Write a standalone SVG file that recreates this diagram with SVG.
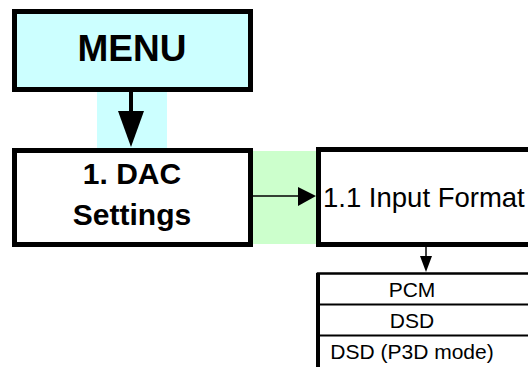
<svg xmlns="http://www.w3.org/2000/svg" width="528" height="367" viewBox="0 0 528 367">
  <defs>
    <style>
      .box { stroke: #000; stroke-width: 5; }
      .title { font-family: "Liberation Sans", Arial, sans-serif; font-weight: bold; fill: #000; text-anchor: middle; }
      .label { font-family: "Liberation Sans", Arial, sans-serif; fill: #000; }
      .item { font-family: "Liberation Sans", Arial, sans-serif; font-size: 21px; fill: #000; text-anchor: middle; }
      .row { stroke: #000; stroke-width: 2; }
    </style>
  </defs>
  <rect width="528" height="367" fill="#fff"/>

  <!-- connector backgrounds and arrows -->
  <g id="connectors">
    <rect x="97" y="91" width="70" height="57" fill="#ccffff"/>
    <line x1="131" y1="91" x2="131" y2="113" stroke="#000" stroke-width="4"/>
    <polygon points="118,111 144,111 131,147" fill="#000"/>

    <rect x="253" y="151" width="63" height="93" fill="#ccffcc"/>
    <line x1="253" y1="196" x2="300" y2="196" stroke="#000" stroke-width="1.5"/>
    <polygon points="298,187 316,196 298,206" fill="#000"/>

    <line x1="426" y1="247" x2="426" y2="258" stroke="#000" stroke-width="1.5"/>
    <polygon points="420,256 432,256 426,272" fill="#000"/>
  </g>

  <g id="menu">
    <rect class="box" x="14.5" y="11.5" width="236" height="78" fill="#ccffff"/>
    <text class="title" x="132" y="61" font-size="37">MENU</text>
  </g>

  <g id="dac-settings">
    <rect class="box" x="14.5" y="150.5" width="236" height="94" fill="#fff"/>
    <text class="title" x="132" y="184" font-size="30">1. DAC</text>
    <text class="title" x="132" y="225" font-size="30">Settings</text>
  </g>

  <g id="input-format">
    <rect class="box" x="318.5" y="149.5" width="220" height="95" fill="#fff"/>
    <text class="label" x="323" y="207" font-size="27.5">1.1 Input Format</text>
  </g>

  <g id="input-format-options">
    <rect x="318" y="273.5" width="220" height="100" fill="#fff" stroke="#000" stroke-width="2.5"/>
    <line x1="318" y1="273" x2="318" y2="367" stroke="#000" stroke-width="4"/>
    <line class="row" x1="318" y1="304.5" x2="528" y2="304.5"/>
    <line class="row" x1="318" y1="335.5" x2="528" y2="335.5"/>
    <text class="item" x="412" y="297">PCM</text>
    <text class="item" x="412" y="328">DSD</text>
    <text class="item" x="412" y="359">DSD (P3D mode)</text>
  </g>
</svg>
